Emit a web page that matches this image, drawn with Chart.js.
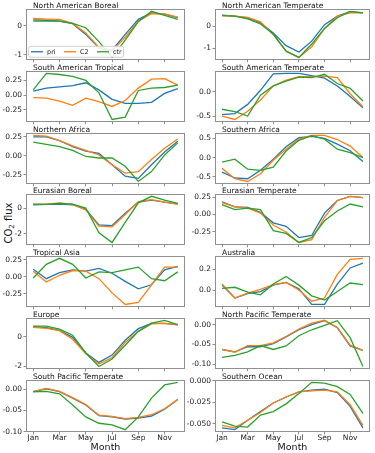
<!DOCTYPE html>
<html>
<head>
<meta charset="utf-8">
<script src="https://cdn.jsdelivr.net/npm/chart.js@4.4.1/dist/chart.umd.min.js"></script>
<style>
html, body { margin: 0; padding: 0; background: #fff; overflow: hidden; }
#fig { position: relative; width: 375px; height: 453px; }
#fig canvas { position: absolute; }
.lab { position: absolute; font-family: "DejaVu Sans", sans-serif; color: #111; white-space: nowrap; }
.lab sub { font-size: 7px; vertical-align: -2px; }
</style>
</head>
<body>
<div id="fig">
  <div class="lab" style="left:9px;top:223px;font-size:10px;transform:translate(-50%,-50%) rotate(-90deg)">CO<sub>2</sub> flux</div>
</div>
<script>
const months = ['Jan','Feb','Mar','Apr','May','Jun','Jul','Aug','Sep','Oct','Nov','Dec'];
const monthTicks = [0, 2, 4, 6, 8, 10];
const monthTickLabels = ['Jan','Mar','May','Jul','Sep','Nov'];
const seriesNames = ['pri', 'C2', 'ctr'];
const seriesColors = ['#1f77b4', '#ff7f0e', '#2ca02c'];

// left column
const naBorealPri = [0.20, 0.19, 0.16, 0.07, -0.30, -0.77, -0.85, -0.30, 0.22, 0.44, 0.40, 0.28];
const naBorealC2  = [0.25, 0.23, 0.22, 0.08, -0.25, -0.75, -0.88, -0.40, 0.16, 0.42, 0.41, 0.30];
const naBorealCtr = [0.16, 0.16, 0.16, 0.08, -0.07, -0.55, -1.10, -0.50, 0.14, 0.50, 0.36, 0.22];

const saTropicalPri = [0.07, 0.12, 0.14, 0.16, 0.21, 0.09, -0.07, -0.14, -0.14, -0.12, 0.03, 0.11];
const saTropicalC2  = [-0.04, -0.05, -0.10, -0.17, -0.05, -0.11, -0.19, -0.09, 0.12, 0.27, 0.28, 0.17];
const saTropicalCtr = [0.09, 0.37, 0.35, 0.32, 0.25, 0.04, -0.41, -0.37, 0.08, 0.12, 0.13, 0.17];

const nAfricaPri = [0.25, 0.25, 0.20, 0.12, 0.06, 0.03, -0.12, -0.27, -0.30, -0.12, 0.05, 0.19];
const nAfricaC2  = [0.27, 0.26, 0.20, 0.13, 0.07, 0.01, -0.12, -0.23, -0.21, -0.05, 0.10, 0.22];
const nAfricaCtr = [0.18, 0.15, 0.12, 0.07, -0.01, -0.03, -0.03, -0.14, -0.34, -0.21, 0.01, 0.17];

const euBorealPri = [0.25, 0.28, 0.30, 0.25, -0.10, -1.30, -1.35, -0.40, 0.45, 0.60, 0.45, 0.30];
const euBorealC2  = [0.28, 0.30, 0.40, 0.28, -0.15, -1.40, -1.45, -0.50, 0.50, 0.65, 0.45, 0.30];
const euBorealCtr = [0.30, 0.28, 0.35, 0.30, 0.00, -1.90, -2.65, -1.10, 0.40, 0.90, 0.60, 0.35];

const tropAsiaPri = [0.11, -0.03, 0.06, 0.10, 0.08, 0.12, 0.05, -0.07, -0.18, -0.12, 0.10, 0.15];
const tropAsiaC2  = [0.08, -0.08, 0.02, 0.09, 0.08, -0.03, -0.24, -0.41, -0.38, -0.12, 0.14, 0.14];
const tropAsiaCtr = [-0.02, 0.18, 0.27, 0.18, -0.02, 0.07, 0.06, 0.10, 0.14, -0.03, -0.06, 0.07];

const europePri = [0.67, 0.60, 0.42, -0.05, -1.10, -1.73, -1.24, -0.25, 0.53, 0.89, 0.89, 0.78];
const europeC2  = [0.62, 0.55, 0.40, -0.18, -1.15, -1.84, -1.40, -0.40, 0.35, 0.85, 0.89, 0.80];
const europeCtr = [0.70, 0.70, 0.50, 0.09, -1.10, -2.00, -1.50, -0.58, 0.35, 0.90, 1.09, 0.80];

const spTempPri = [-0.006, 0.001, -0.006, -0.021, -0.037, -0.062, -0.065, -0.070, -0.068, -0.063, -0.047, -0.024];
const spTempC2  = [-0.006, 0.002, -0.005, -0.020, -0.036, -0.061, -0.064, -0.069, -0.066, -0.060, -0.046, -0.024];
const spTempCtr = [-0.006, -0.005, -0.011, -0.037, -0.065, -0.080, -0.084, -0.095, -0.065, -0.021, 0.010, 0.016];

// right column
const naTempPri = [0.50, 0.45, 0.37, 0.15, -0.30, -0.87, -1.16, -0.67, 0.07, 0.45, 0.65, 0.60];
const naTempC2  = [0.48, 0.45, 0.40, 0.20, -0.38, -1.12, -1.40, -0.92, -0.10, 0.45, 0.60, 0.60];
const naTempCtr = [0.48, 0.45, 0.33, 0.10, -0.35, -1.12, -1.40, -0.80, -0.10, 0.38, 0.67, 0.60];

const saTempPri = [-0.47, -0.45, -0.26, 0.03, 0.37, 0.38, 0.38, 0.33, 0.28, 0.12, -0.10, -0.33];
const saTempC2  = [-0.50, -0.57, -0.40, -0.17, 0.12, 0.24, 0.31, 0.31, 0.32, 0.29, -0.04, -0.31];
const saTempCtr = [-0.36, -0.41, -0.50, -0.07, 0.12, 0.22, 0.30, 0.29, 0.36, 0.17, 0.07, -0.19];

const sAfricaPri = [-0.38, -0.53, -0.55, -0.33, -0.04, 0.28, 0.52, 0.55, 0.50, 0.35, 0.18, -0.10];
const sAfricaC2  = [-0.28, -0.55, -0.62, -0.42, -0.07, 0.22, 0.48, 0.58, 0.58, 0.47, 0.30, 0.00];
const sAfricaCtr = [-0.12, -0.04, -0.30, -0.33, -0.25, 0.17, 0.45, 0.57, 0.48, 0.22, 0.13, 0.00];

const euTempPri = [0.18, 0.11, 0.10, 0.03, -0.12, -0.17, -0.33, -0.30, 0.02, 0.20, 0.26, 0.24];
const euTempC2  = [0.17, 0.11, 0.09, 0.02, -0.15, -0.25, -0.40, -0.36, -0.04, 0.20, 0.26, 0.24];
const euTempCtr = [0.14, 0.07, 0.09, 0.07, -0.23, -0.27, -0.40, -0.33, -0.09, 0.05, 0.15, 0.11];

const australiaPri = [0.05, -0.07, -0.03, -0.01, 0.05, 0.075, 0.015, -0.13, -0.13, 0.06, 0.21, 0.255];
const australiaC2  = [0.06, -0.07, -0.025, 0.01, 0.055, 0.075, 0.005, -0.10, -0.07, 0.15, 0.29, 0.30];
const australiaCtr = [0.02, 0.03, -0.015, -0.04, 0.06, 0.13, 0.05, -0.05, -0.09, -0.01, 0.07, 0.055];

const npTempPri = [-0.063, -0.069, -0.056, -0.056, -0.048, -0.031, -0.013, 0.000, 0.010, -0.008, -0.054, -0.065];
const npTempC2  = [-0.063, -0.070, -0.053, -0.053, -0.046, -0.030, -0.011, 0.004, 0.011, -0.007, -0.052, -0.065];
const npTempCtr = [-0.083, -0.078, -0.069, -0.053, -0.063, -0.054, -0.028, -0.013, -0.002, 0.010, -0.033, -0.106];

const sOceanPri = [-0.055, -0.057, -0.046, -0.036, -0.026, -0.019, -0.013, -0.011, -0.010, -0.014, -0.030, -0.055];
const sOceanC2  = [-0.052, -0.055, -0.046, -0.037, -0.026, -0.019, -0.013, -0.012, -0.011, -0.013, -0.028, -0.052];
const sOceanCtr = [-0.048, -0.053, -0.054, -0.040, -0.036, -0.027, -0.015, -0.002, -0.003, -0.007, -0.016, -0.038];

// y tick values and their labels
const ticksOne = [0, -1], ticksOneLabels = ['0', '-1'];
const ticksTwo = [0, -2], ticksTwoLabels = ['0', '-2'];
const ticksQuarter = [0.25, 0, -0.25], ticksQuarterLabels = ['0.25', '0.00', '-0.25'];
const ticksFive = [0, -0.05, -0.10], ticksFiveLabels = ['0.00', '-0.05', '-0.10'];
const ticksHalfA = [0, -0.5], ticksHalfALabels = ['0.0', '-0.5'];
const ticksHalfB = [0.5, 0, -0.5], ticksHalfBLabels = ['0.5', '0.0', '-0.5'];
const ticksAus = [0.2, 0], ticksAusLabels = ['0.2', '0.0'];
const ticksOcean = [0, -0.025, -0.05], ticksOceanLabels = ['0.000', '-0.025', '-0.050'];

const leftPanels = [
  ['North American Boreal', [naBorealPri, naBorealC2, naBorealCtr], ticksOne, ticksOneLabels],
  ['South American Tropical', [saTropicalPri, saTropicalC2, saTropicalCtr], ticksQuarter, ticksQuarterLabels],
  ['Northern Africa', [nAfricaPri, nAfricaC2, nAfricaCtr], ticksQuarter, ticksQuarterLabels],
  ['Eurasian Boreal', [euBorealPri, euBorealC2, euBorealCtr], ticksTwo, ticksTwoLabels],
  ['Tropical Asia', [tropAsiaPri, tropAsiaC2, tropAsiaCtr], ticksQuarter, ticksQuarterLabels],
  ['Europe', [europePri, europeC2, europeCtr], ticksTwo, ticksTwoLabels],
  ['South Pacific Temperate', [spTempPri, spTempC2, spTempCtr], ticksFive, ticksFiveLabels],
];
const rightPanels = [
  ['North American Temperate', [naTempPri, naTempC2, naTempCtr], ticksOne, ticksOneLabels],
  ['South American Temperate', [saTempPri, saTempC2, saTempCtr], ticksHalfA, ticksHalfALabels],
  ['Southern Africa', [sAfricaPri, sAfricaC2, sAfricaCtr], ticksHalfB, ticksHalfBLabels],
  ['Eurasian Temperate', [euTempPri, euTempC2, euTempCtr], ticksQuarter, ticksQuarterLabels],
  ['Australia', [australiaPri, australiaC2, australiaCtr], ticksAus, ticksAusLabels],
  ['North Pacific Temperate', [npTempPri, npTempC2, npTempCtr], ticksFive, ticksFiveLabels],
  ['Southern Ocean', [sOceanPri, sOceanC2, sOceanCtr], ticksOcean, ticksOceanLabels],
];

Chart.defaults.font.family = '"DejaVu Sans", sans-serif';
Chart.defaults.color = '#222';

// frame, panel title and (first panel only) legend
const panelDecor = {
  id: 'panelDecor',
  afterDatasetsDraw(chart, args, opts) {
    const { ctx, chartArea: a } = chart;
    ctx.save();
    ctx.strokeStyle = '#8f8f8f';
    ctx.lineWidth = 1;
    ctx.strokeRect(Math.round(a.left) + 0.5, Math.round(a.top) + 0.5,
      Math.round(a.right - a.left) - 1, Math.round(a.bottom - a.top) - 1);

    ctx.fillStyle = '#111';
    ctx.font = '7.5px "DejaVu Sans"';
    ctx.textBaseline = 'alphabetic';
    ctx.textAlign = 'left';
    ctx.fillText(opts.title, a.left + 7, a.top - 1.5);

    if (opts.legend) {
      const x0 = a.left + 2.5, y0 = a.bottom - 13.5;
      ctx.beginPath();
      ctx.roundRect(x0, y0, 95, 11, 2);
      ctx.fillStyle = 'rgba(255,255,255,0.85)';
      ctx.fill();
      ctx.strokeStyle = '#d0d0d0';
      ctx.stroke();
      const offs = [5, 38, 71];
      ctx.font = '6.5px "DejaVu Sans"';
      ctx.textBaseline = 'middle';
      seriesNames.forEach((n, i) => {
        const lx = a.left + offs[i];
        const ly = y0 + 5.5;
        ctx.beginPath();
        ctx.moveTo(lx, ly);
        ctx.lineTo(lx + 12, ly);
        ctx.strokeStyle = seriesColors[i];
        ctx.lineWidth = 1.3;
        ctx.stroke();
        ctx.fillStyle = '#222';
        ctx.fillText(n, lx + 16, ly + 0.5);
      });
    }
    ctx.restore();
  }
};

const fig = document.getElementById('fig');

function addPanel(panel, col, row) {
  const [title, series, yTicks, yLabels] = panel;
  const last = row === 6;
  const boxTop = Math.round(9 + row * 61.8);
  const top = boxTop - 12;
  const height = last ? 453 - top : 68;
  const left = col === 0 ? 0 : 185;
  const width = 190;
  const axisW = col === 0 ? 26 : 30;

  const canvas = document.createElement('canvas');
  canvas.width = width;
  canvas.height = height;
  canvas.style.left = left + 'px';
  canvas.style.top = top + 'px';
  fig.appendChild(canvas);

  const all = series.flat();
  const lo = Math.min(...all), hi = Math.max(...all);
  const pad = (hi - lo) * 0.05;

  new Chart(canvas, {
    type: 'line',
    data: {
      datasets: series.map((vals, i) => ({
        label: seriesNames[i],
        data: vals.map((v, k) => ({ x: k, y: v })),
        borderColor: seriesColors[i],
        borderWidth: 1.3,
        pointRadius: 0,
        tension: 0,
        fill: false,
        order: 3 - i,
      })),
    },
    options: {
      responsive: false,
      devicePixelRatio: 1,
      animation: false,
      events: [],
      layout: { padding: { top: 12, right: 5, left: 0, bottom: 0 } },
      plugins: {
        legend: { display: false },
        tooltip: { enabled: false },
        panelDecor: { title: title, legend: row === 0 && col === 0 },
      },
      scales: {
        x: {
          type: 'linear',
          min: -0.55,
          max: 11.55,
          afterBuildTicks: s => { s.ticks = monthTicks.map(v => ({ value: v })); },
          afterFit: s => { s.height = last ? 21 : 4; },
          border: { display: false },
          grid: { drawOnChartArea: false, tickLength: 2.5, color: '#8f8f8f' },
          ticks: {
            autoSkip: false,
            maxRotation: 0,
            padding: 0,
            font: { size: 7.5, lineHeight: 1 },
            callback: (v, i) => last ? monthTickLabels[i] : '',
          },
          title: {
            display: last,
            text: 'Month',
            color: '#111',
            padding: 0,
            font: { size: 9.5 },
          },
        },
        y: {
          type: 'linear',
          min: lo - pad,
          max: hi + pad,
          afterBuildTicks: s => { s.ticks = yTicks.map(v => ({ value: v })); },
          afterFit: s => { s.width = axisW; },
          border: { display: false },
          grid: { drawOnChartArea: false, tickLength: 2.5, color: '#8f8f8f' },
          ticks: {
            padding: 1.5,
            font: { size: 7.5, lineHeight: 1 },
            callback: (v, i) => yLabels[i],
          },
        },
      },
    },
    plugins: [panelDecor],
  });
}

leftPanels.forEach((p, r) => addPanel(p, 0, r));
rightPanels.forEach((p, r) => addPanel(p, 1, r));
</script>
</body>
</html>
